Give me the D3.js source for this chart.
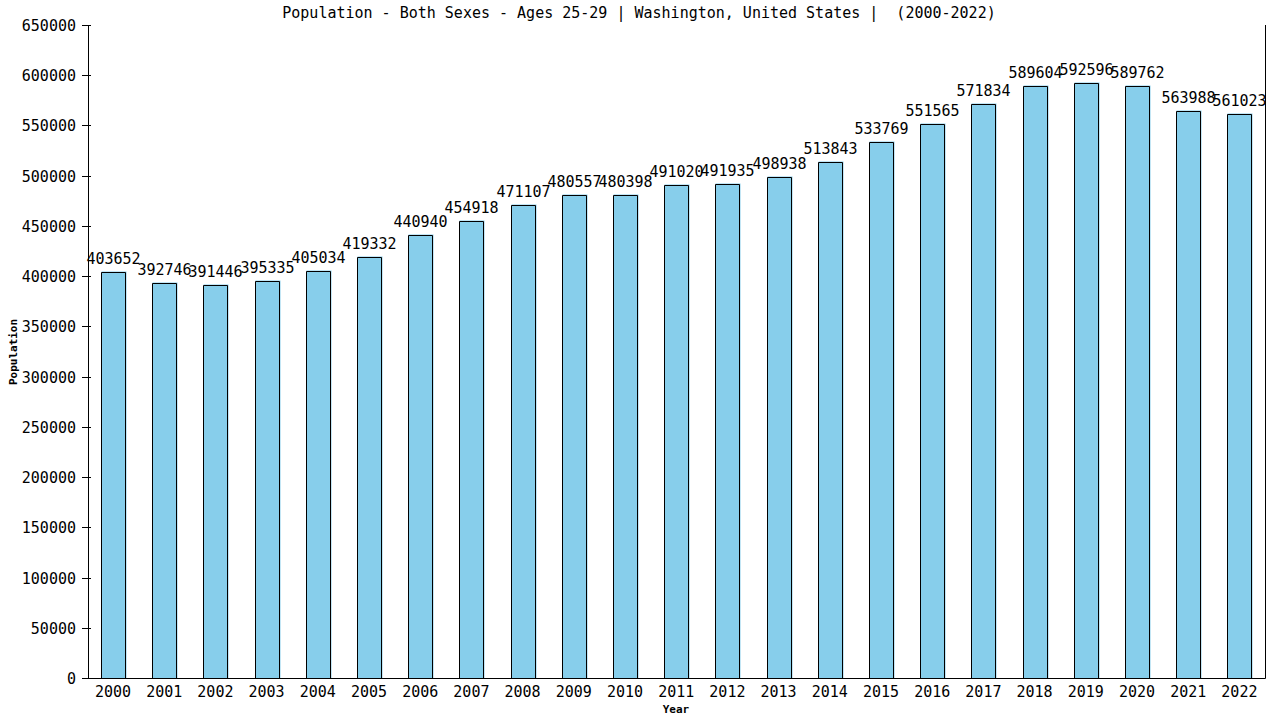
<!DOCTYPE html>
<html><head><meta charset="utf-8">
<script src="https://cdn.jsdelivr.net/npm/d3@7"></script>
<style>body{margin:0;background:#fff}svg{display:block}text{font-family:"DejaVu Sans Mono",monospace}</style>
</head><body>
<svg id="c" width="1280" height="720"></svg>
<script>
const years = ["2000","2001","2002","2003","2004","2005","2006","2007","2008","2009","2010","2011","2012","2013","2014","2015","2016","2017","2018","2019","2020","2021","2022"];
const values = [403652,392746,391446,395335,405034,419332,440940,454918,471107,480557,480398,491020,491935,498938,513843,533769,551565,571834,589604,592596,589762,563988,561023];
const yTicks = [0,50000,100000,150000,200000,250000,300000,350000,400000,450000,500000,550000,600000,650000];
const title = "Population - Both Sexes - Ages 25-29 | Washington, United States |  (2000-2022)";

(function(){
const svg = d3.select("#c");
const pL = 88, pR = 1265, pT = 25, pB = 678;
const x = d3.scaleBand().domain(years).range([87.4, 1265]).paddingInner(0.53).paddingOuter(0.265);
const y = d3.scaleLinear().domain([0, 650000]).range([pB, pT]);

const g = svg.append("g");
years.forEach((yr, i) => {
  const bx = Math.round(x(yr)) + 0.5, bw = Math.round(x.bandwidth());
  const by = Math.round(y(values[i])) + 0.5;
  g.append("rect").attr("x", bx).attr("y", by - 1).attr("width", bw + 1).attr("height", pB - by + 1)
    .attr("fill", "#87ceeb");
  g.append("path").attr("d", `M${bx},${pB}V${by}H${bx + bw}V${pB}`)
    .attr("fill", "none").attr("stroke", "#000").attr("stroke-width", 1);
  g.append("text").attr("x", bx + bw / 2).attr("y", by - 8.5).attr("text-anchor", "middle")
    .attr("font-size", 15).text(values[i]);
});

svg.append("path").attr("d", `M${pL + 0.5},${pT}V${pB + 0.5}H${pR + 0.5}V${pT}`)
  .attr("fill", "none").attr("stroke", "#000");

const yt = svg.append("g");
yTicks.forEach(t => {
  const ty = Math.round(y(t)) + 0.5;
  yt.append("line").attr("x1", pL - 6).attr("x2", pL + 3).attr("y1", ty).attr("y2", ty).attr("stroke", "#000");
  yt.append("text").attr("x", 76).attr("y", ty + 5).attr("text-anchor", "end").attr("font-size", 15).text(t);
});

years.forEach(yr => {
  svg.append("text").attr("x", x(yr) + x.bandwidth() / 2).attr("y", 697).attr("text-anchor", "middle")
    .attr("font-size", 15).text(yr);
});

svg.append("text").attr("x", 639).attr("y", 18).attr("text-anchor", "middle").attr("font-size", 15)
  .attr("xml:space", "preserve").style("white-space", "pre").text(title);
svg.append("text").attr("x", 676).attr("y", 713).attr("text-anchor", "middle").attr("font-size", 11)
  .attr("font-weight", "bold").text("Year");
svg.append("text").attr("transform", "translate(17,352) rotate(-90)").attr("text-anchor", "middle")
  .attr("font-size", 11).attr("font-weight", "bold").text("Population");
})();
</script>
</body></html>
